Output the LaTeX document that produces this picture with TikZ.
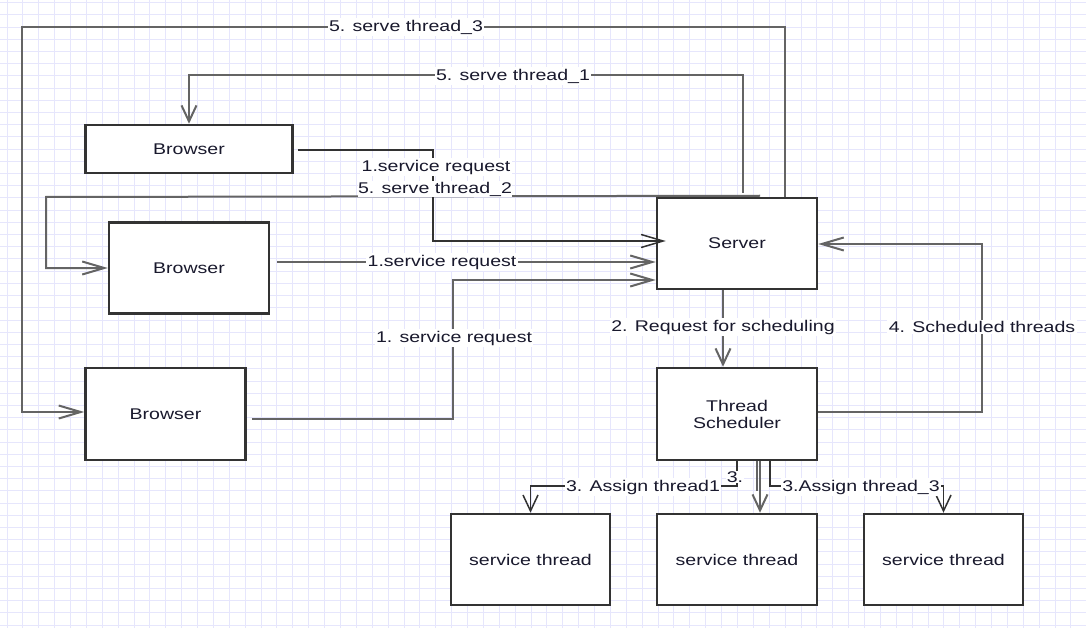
\documentclass[tikz,border=0pt]{standalone}
\usepackage{fontspec}
\setmainfont{Liberation Sans}[FakeStretch=1.26]
\usetikzlibrary{arrows.meta,calc}
\definecolor{gridc}{RGB}{230,230,252}
\definecolor{boxc}{RGB}{51,51,51}
\definecolor{linec}{RGB}{100,100,100}
\definecolor{darkl}{RGB}{50,50,50}
\definecolor{txtc}{RGB}{25,25,45}
\begin{document}
\begin{tikzpicture}[x=1pt,y=-1pt,
  font=\fontsize{15.5}{17}\selectfont, text=txtc,
  box/.style={draw=boxc, line width=2.5pt, fill=white, rectangle, inner sep=0pt, align=center},
  conn/.style={draw=linec, line width=2pt},
  dconn/.style={draw=darkl, line width=1.5pt},
  harr/.style={-{Straight Barb[length=22pt,width=13pt]}},
  varr/.style={-{Straight Barb[length=16pt,width=15pt]}},
  lab/.style={fill=white, inner sep=1.5pt}
]
\useasboundingbox (0,0) rectangle (1086,628);
\fill[white] (0,0) rectangle (1086,628);
% grid
\foreach \i in {0,...,68} \draw[gridc, line width=1pt] ({7+15.88*\i},0) -- ({7+15.88*\i},628);
\foreach \j in {0,...,51} \draw[gridc, line width=1pt] (0,{2.8+12.2*\j}) -- (1086,{2.8+12.2*\j});

% boxes
\node[box, minimum width=207pt, minimum height=48pt] (b1) at (189,149) {Browser};
\node[box, minimum width=160pt, minimum height=91pt] (b2) at (189,268) {Browser};
\node[box, minimum width=160pt, minimum height=92pt] (b3) at (165.5,414) {Browser};
\node[box, minimum width=160pt, minimum height=91pt] (srv) at (737,243.5) {Server};
\node[box, minimum width=160pt, minimum height=92pt] (sch) at (737,414) {Thread\\Scheduler};
\node[box, minimum width=159pt, minimum height=91pt] (t1) at (530.5,559.5) {service thread};
\node[box, minimum width=160pt, minimum height=91pt] (t2) at (737,559.5) {service thread};
\node[box, minimum width=159pt, minimum height=91pt] (t3) at (943.5,559.5) {service thread};

% 5. serve thread_3
\draw[conn, harr] ($(srv.north)+(48,0)$) |- (22,27) |- ($(b3.west)+(0,-2)$);
% 5. serve thread_1
\draw[conn, varr] ($(srv.north)+(6,-4)$) |- ($(b1.north)+(0,-49)$) -- (b1.north);
% 5. serve thread_2
\draw[conn, harr] ($(srv.north)+(23,-1)$) -- (46,197) |- (b2.west);
% 1. service requests
\draw[dconn, harr] ($(b1.east)+(4,1)$) -| (433,241) -- ($(srv.west)+(10,-2.5)$);
\draw[conn, harr] ($(b2.east)+(7,-6)$) -- ($(srv.west)+(0,18.5)$);
\draw[conn, harr] ($(b3.east)+(5,5)$) -| (453,280) -- ($(srv.west)+(0,36.5)$);
% 2. request for scheduling
\draw[conn, varr] ($(srv.south)+(-14,0)$) -- ($(sch.north)+(-14,0)$);
% 4. scheduled threads
\draw[conn, harr] ($(sch.east)+(0,-2)$) -| (982,244) -- ($(srv.east)+(0,0.5)$);
% 3. assign threads
\draw[dconn, varr] (sch.south) |- ($(t1.north)+(0,-27)$) -- (t1.north);
\draw[conn] ($(sch.south)+(20,0)$) -- ++(0,30);
\draw[conn, varr] ($(sch.south)+(23,0)$) -- ($(t2.north)+(23,0)$);
\draw[dconn, varr] ($(sch.south)+(33,0)$) |- ($(t3.north)+(0,-27)$) -- (t3.north);

% labels
\node[lab] (l53) at (406,27) {5. serve thread\_3};
\node[lab] (l51) at (513,76) {5. serve thread\_1};
\node[lab] (l1a) at (436,167) {1.service request};
\node[lab, inner sep=0.5pt] (l52) at (435,189) {5. serve thread\_2};
\node[lab] (l1b) at (442,262) {1.service request};
\node[lab] (l1c) at (454,338) {1. service request};
\node[lab] (l2) at (723,327) {2. Request for scheduling};
\node[lab] (l4) at (982,327) {4. Scheduled threads};
\node[lab, inner sep=0.5pt] (l3) at (735,477) {3.};
\node[lab] (l3a) at (643,487) {3. Assign thread1};
\node[lab] (l3c) at (861,487) {3.Assign thread\_3};
\end{tikzpicture}
\end{document}
